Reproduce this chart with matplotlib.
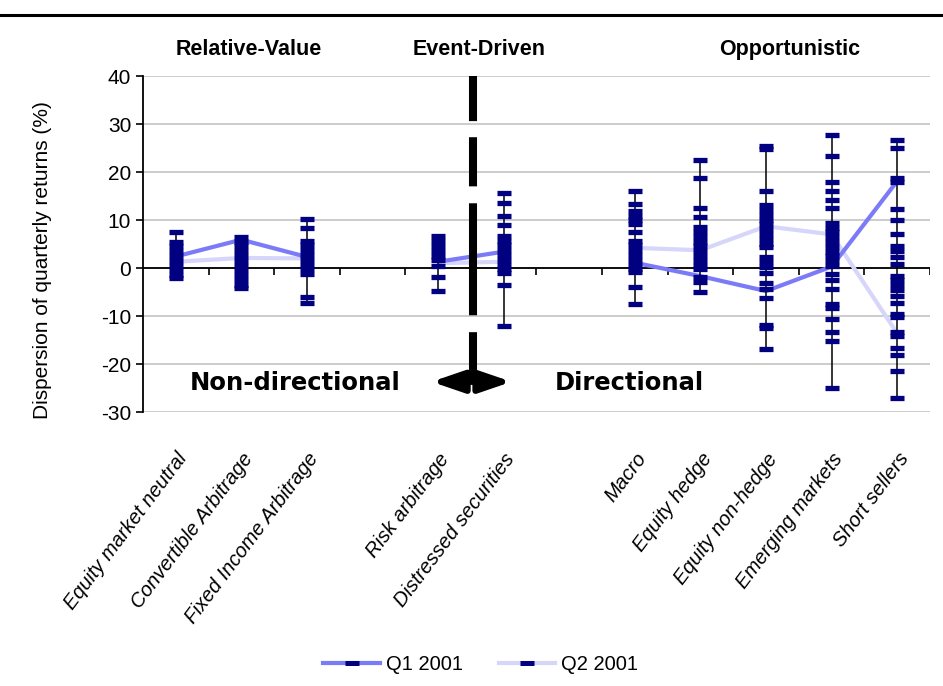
import matplotlib
matplotlib.use('Agg')
import matplotlib.pyplot as plt
import numpy as np
from matplotlib.lines import Line2D

plt.rcParams['font.family'] = ['Liberation Sans', 'DejaVu Sans']
plt.rcParams['axes.unicode_minus'] = False

# Categorias (huecos en blanco entre grupos)
categorias = ['Equity market neutral', 'Convertible Arbitrage', 'Fixed Income Arbitrage', '',
              'Risk arbitrage', 'Distressed securities', '',
              'Macro', 'Equity hedge', 'Equity non-hedge', 'Emerging markets', 'Short sellers']

# Mediana por trimestre (None = hueco)
q1_2001 = [2.4, 5.9, 2.3, None, 1.3, 3.4, None, 1.1, -1.7, -4.8, 0.3, 18.1]
q2_2001 = [1.3, 2.1, 2.0, None, 1.0, 1.3, None, 4.2, 3.7, 8.7, 7.0, -13.6]

# Rendimientos individuales por estrategia (%)
emn = [7.6, 5.5, 4.5, 3.5, 2.5, 1.5, 0.5, -0.5, -1.5, -2.0]
ca = [6.4, 5.5, 4.5, 3.5, 2.5, 1.5, 0.5, -0.5, -1.5, -2.5, -3.5, -4.1]
fia = [10.2, 8.4, 5.7, 4.7, 3.7, 2.7, 1.7, 0.7, -0.3, -1.3, -6.0, -7.2]
ra = [6.6, 5.6, 4.6, 3.6, 2.6, 1.6, 0.5, -1.9, -4.8]
ds = [15.6, 13.6, 10.9, 9.0, 6.7, 5.7, 4.7, 3.7, 2.7, 1.7, 0.7, -0.3, -1.0, -3.6, -12.1]
macro = [16.1, 13.3, 11.9, 10.9, 10.0, 9.1, 7.6, 5.7, 4.7, 3.7, 2.7, 1.7, 0.7, -0.3, -0.8, -3.9, -7.5]
eh = [22.5, 18.7, 12.4, 10.6, 8.5, 7.5, 6.5, 5.5, 4.5, 3.5, 2.5, 1.5, 0.5, -0.3, -1.8, -2.9, -5.1]
enh = [25.5, 24.8, 16.0, 13.1, 12.1, 11.1, 10.1, 9.1, 8.1, 7.1, 6.1, 5.1, 4.4, 2.2, 1.2, 0.2, -1.1,
       -3.1, -4.4, -6.3, -11.9, -12.6, -16.9]
em = [27.8, 23.3, 18.0, 16.0, 14.1, 12.4, 9.4, 8.4, 7.4, 6.4, 5.4, 4.4, 3.4, 2.4, 1.4, 0.4,
      -1.25, -2.6, -4.4, -7.4, -8.3, -10.6, -13.3, -15.2, -24.9]
ss = [26.7, 25.1, 18.7, 18.0, 12.3, 10.1, 7.1, 4.5, 3.5, 2.3, 0.8, -1.6, -2.6, -3.6, -4.6, -5.8,
      -7.2, -9.5, -10.3, -13.4, -14.1, -16.7, -18.1, -21.4, -27.1]
fondos = [emn, ca, fia, None, ra, ds, None, macro, eh, enh, em, ss]

c_q1 = '#7B7BF7'
c_q2 = '#D6D6FB'
navy = '#000080'

fig = plt.figure(figsize=(9.43, 6.86), dpi=100)
ax = fig.add_axes([0.1516, 0.3994, 0.8346, 0.4898])

x = np.arange(len(categorias))
ax.set_xlim(-0.5, len(categorias) - 0.5)
ax.set_ylim(-30, 40)

# cuadricula
for v in range(-30, 41, 10):
    ax.axhline(v, color='#C8C8C8', lw=1.3, zorder=0)
ax.axhline(0, color='black', lw=1.3, zorder=1)
ax.vlines(np.arange(0.5, len(categorias)), -1.5, 0, color='black', lw=1.2, zorder=1)

# lineas de mediana
q1 = np.array([np.nan if v is None else v for v in q1_2001])
q2 = np.array([np.nan if v is None else v for v in q2_2001])
ax.plot(x, q2, color=c_q2, lw=3, zorder=2, solid_capstyle='butt')
ax.plot(x, q1, color=c_q1, lw=3, zorder=2, solid_capstyle='butt')

# rango alto-bajo y fondos
for i, f in enumerate(fondos):
    if f is None:
        continue
    ax.vlines(i, min(f), max(f), color='black', lw=1.1, zorder=3)
    ax.plot([i] * len(f), f, ls='none', marker='_', ms=10.5, mew=3.8, color=navy, zorder=4)

ax.set_yticks(range(-30, 41, 10))
ax.set_xticks(x)
ax.set_xticklabels(categorias, rotation=53, ha='right', rotation_mode='anchor',
                   fontstyle='italic', fontsize=14.5)
ax.tick_params(axis='x', length=0, pad=27)
ax.tick_params(axis='y', labelsize=15, length=5, width=1.2, direction='out')
for s in ['top', 'right', 'bottom']:
    ax.spines[s].set_visible(False)
ax.spines['left'].set_linewidth(1.3)
ax.set_ylabel('Dispersion of quarterly returns (%)', fontsize=15)
ax.yaxis.set_label_coords(-0.116, 0.452)

# separador direccional / no direccional
sep = Line2D([4.53, 4.53], [40, -23.7], color='black', lw=5.8,
             dashes=(5.6, 2.0, 6.1, 2.1, 13.9, 2.1, 12), zorder=5)
ax.add_line(sep)
ax.annotate('', xy=(5.12, -23.7), xytext=(3.9, -23.7),
            arrowprops=dict(arrowstyle='<|-|>,head_length=1.9,head_width=0.65',
                            lw=4.5, color='black', shrinkA=0, shrinkB=0), zorder=5)
ax.text(1.82, -24, 'Non-directional', ha='center', va='center', fontsize=17.5,
        fontweight='bold', family='DejaVu Sans')
ax.text(6.92, -24, 'Directional', ha='center', va='center', fontsize=17.5,
        fontweight='bold', family='DejaVu Sans')

# encabezados de grupo
tr = ax.get_xaxis_transform()
for xc, txt in [(1.11, 'Relative-Value'), (4.63, 'Event-Driven'), (9.36, 'Opportunistic')]:
    ax.text(xc, 1.08, txt, transform=tr, ha='center', va='center', fontsize=15.5,
            fontweight='bold')

# linea superior
fig.add_artist(Line2D([0, 1], [1 - 15 / 686, 1 - 15 / 686], color='black', lw=2.2,
                      transform=fig.transFigure))

handles = [Line2D([], [], color=c_q1, lw=3, marker='_', ms=10, mew=3.6, mec=navy),
           Line2D([], [], color=c_q2, lw=3, marker='_', ms=10, mew=3.6, mec=navy)]
fig.legend(handles, ['Q1 2001', 'Q2 2001'], loc='center', bbox_to_anchor=(0.51, 0.031),
           ncol=2, frameon=False, fontsize=14.5, handlelength=2.8, handletextpad=0.3,
           columnspacing=1.8, numpoints=1)

plt.savefig('out.png', dpi=100)
